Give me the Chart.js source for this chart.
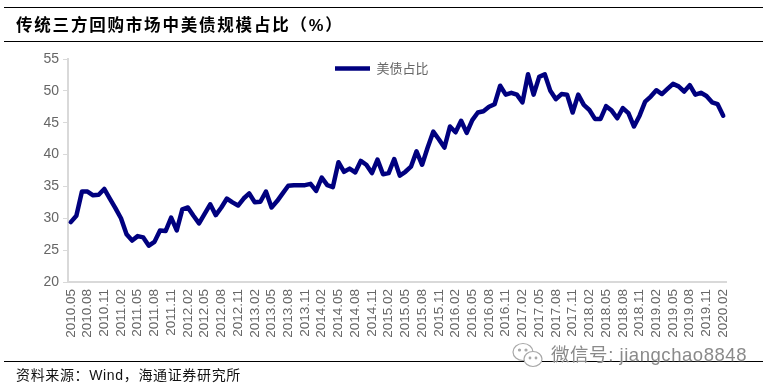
<!DOCTYPE html>
<html lang="zh"><head><meta charset="utf-8">
<style>
html,body{margin:0;padding:0;background:#fff;width:773px;height:389px;overflow:hidden}
#wrap{position:relative;width:773px;height:389px}
canvas{position:absolute;left:0;top:0}
.rule{position:absolute;left:4px;width:759px;height:1px;background:#000}
.t{position:absolute;white-space:nowrap;font-family:"Liberation Sans","Noto Sans CJK SC",sans-serif}
#title{left:16px;top:13px;font-size:16.5px;font-weight:700;color:#000;line-height:24px;letter-spacing:1.8px}
#source{left:16px;top:365px;font-size:14px;color:#111;line-height:20px;letter-spacing:.65px}
#mark{left:551px;top:343px;font-size:18.5px;line-height:24px;color:#8a8a8a;letter-spacing:.55px;text-shadow:0 0 2px #fff}
#icon{position:absolute;left:511px;top:341px}
</style></head><body>
<div id="wrap">
<canvas id="c" width="773" height="389"></canvas>
<div class="rule" style="top:7px"></div>
<div class="rule" style="top:41px"></div>
<div class="rule" style="top:361px"></div>
<div class="t" id="title">传统三方回购市场中美债规模占比（%）</div>
<div class="t" id="source">资料来源：Wind，海通证券研究所</div>
<svg id="icon" width="34" height="30" viewBox="0 0 34 30" fill="#fff" stroke="#a8a8a8" stroke-width="1.2">
<ellipse cx="12" cy="11" rx="10" ry="8.5"/><ellipse cx="22" cy="18" rx="9" ry="7.5"/>
<circle cx="8.5" cy="9" r="1" fill="#a8a8a8"/><circle cx="15" cy="9" r="1" fill="#a8a8a8"/>
<circle cx="19" cy="17" r=".8" fill="#a8a8a8"/><circle cx="25" cy="17" r=".8" fill="#a8a8a8"/>
</svg>
<div class="t" id="mark">微信号: jiangchao8848</div>
</div>
<script src="https://cdn.jsdelivr.net/npm/chart.js@4/dist/chart.umd.min.js"></script>
<script>
const categories = [
"2010.05","2010.06","2010.07","2010.08","2010.09","2010.10","2010.11","2010.12",
"2011.01","2011.02","2011.03","2011.04","2011.05","2011.06","2011.07","2011.08","2011.09","2011.10","2011.11","2011.12",
"2012.01","2012.02","2012.03","2012.04","2012.05","2012.06","2012.07","2012.08","2012.09","2012.10","2012.11","2012.12",
"2013.01","2013.02","2013.03","2013.04","2013.05","2013.06","2013.07","2013.08","2013.09","2013.10","2013.11","2013.12",
"2014.01","2014.02","2014.03","2014.04","2014.05","2014.06","2014.07","2014.08","2014.09","2014.10","2014.11","2014.12",
"2015.01","2015.02","2015.03","2015.04","2015.05","2015.06","2015.07","2015.08","2015.09","2015.10","2015.11","2015.12",
"2016.01","2016.02","2016.03","2016.04","2016.05","2016.06","2016.07","2016.08","2016.09","2016.10","2016.11","2016.12",
"2017.01","2017.02","2017.03","2017.04","2017.05","2017.06","2017.07","2017.08","2017.09","2017.10","2017.11","2017.12",
"2018.01","2018.02","2018.03","2018.04","2018.05","2018.06","2018.07","2018.08","2018.09","2018.10","2018.11","2018.12",
"2019.01","2019.02","2019.03","2019.04","2019.05","2019.06","2019.07","2019.08","2019.09","2019.10","2019.11","2019.12",
"2020.01","2020.02"];
const treasuryShare = [
29.4,30.4,34.2,34.2,33.6,33.7,34.6,33.1,31.6,30.0,27.5,26.5,27.2,27.0,25.7,26.3,28.1,28.0,30.1,28.1,
31.4,31.7,30.4,29.2,30.7,32.2,30.5,31.7,33.1,32.5,32.0,33.1,33.9,32.5,32.6,34.2,31.7,32.7,33.9,35.1,
35.2,35.2,35.2,35.4,34.3,36.4,35.2,34.9,38.8,37.3,37.8,37.2,39.0,38.4,37.1,39.2,36.9,37.1,39.3,36.7,
37.3,38.1,40.5,38.4,41.1,43.6,42.4,41.1,44.4,43.5,45.3,43.4,45.4,46.6,46.8,47.5,47.9,50.8,49.4,49.7,
49.4,48.2,52.6,49.4,52.2,52.6,50.0,48.7,49.5,49.4,46.6,49.4,47.8,47.0,45.6,45.6,47.6,46.9,45.7,47.3,
46.5,44.4,46.1,48.3,49.1,50.1,49.5,50.3,51.1,50.7,49.9,50.9,49.4,49.7,49.2,48.2,47.9,46.1];
const seriesName = "美债占比";
const grey = "#d9d9d9", textGrey = "#666666", navy = "#00007f";

const placeLegend = {
  id: "placeLegend",
  afterLayout(chart) {
    const lg = chart.legend, w = lg.width, h = lg.height;
    lg.left = 335; lg.right = 335 + w; lg.top = 62; lg.bottom = 62 + h;
  }
};

new Chart(document.getElementById("c"), {
  type: "line",
  data: { labels: categories, datasets: [{
    label: seriesName, data: treasuryShare,
    borderColor: navy, backgroundColor: navy, borderWidth: 4.5,
    borderCapStyle: "round", borderJoinStyle: "round",
    pointRadius: 0, tension: 0, fill: false
  }]},
  plugins: [placeLegend],
  options: {
    responsive: false, animation: false,
    layout: { padding: { left: 0, right: 47, top: 59, bottom: 0 } },
    plugins: {
      title: { display: false }, tooltip: { enabled: false },
      legend: {
        position: "chartArea", align: "start",
        labels: {
          usePointStyle: true, pointStyle: "line", pointStyleWidth: 35, boxHeight: 14,
          color: textGrey, padding: 0,
          font: { family: '"Noto Sans CJK SC",sans-serif', size: 13 }
        }
      }
    },
    scales: {
      x: {
        type: "category", offset: true,
        afterFit(s) { s.height = 107; },
        grid: { drawOnChartArea: false, drawTicks: false },
        border: { color: grey, width: 2 },
        ticks: {
          autoSkip: false, minRotation: 90, maxRotation: 90, padding: 7,
          color: textGrey, font: { family: '"Liberation Sans",Arial,sans-serif', size: 13.5 },
          callback(v, i) { return i % 3 === 0 ? categories[i] : null; }
        }
      },
      y: {
        min: 20, max: 55,
        afterFit(s) { s.width = 68; },
        grid: { drawOnChartArea: false, drawTicks: true, tickLength: 5, color: grey },
        border: { color: grey, width: 2 },
        ticks: {
          stepSize: 5, padding: 4, color: textGrey,
          font: { family: '"Liberation Sans",Arial,sans-serif', size: 14 }
        }
      }
    }
  }
});
</script>
</body></html>
